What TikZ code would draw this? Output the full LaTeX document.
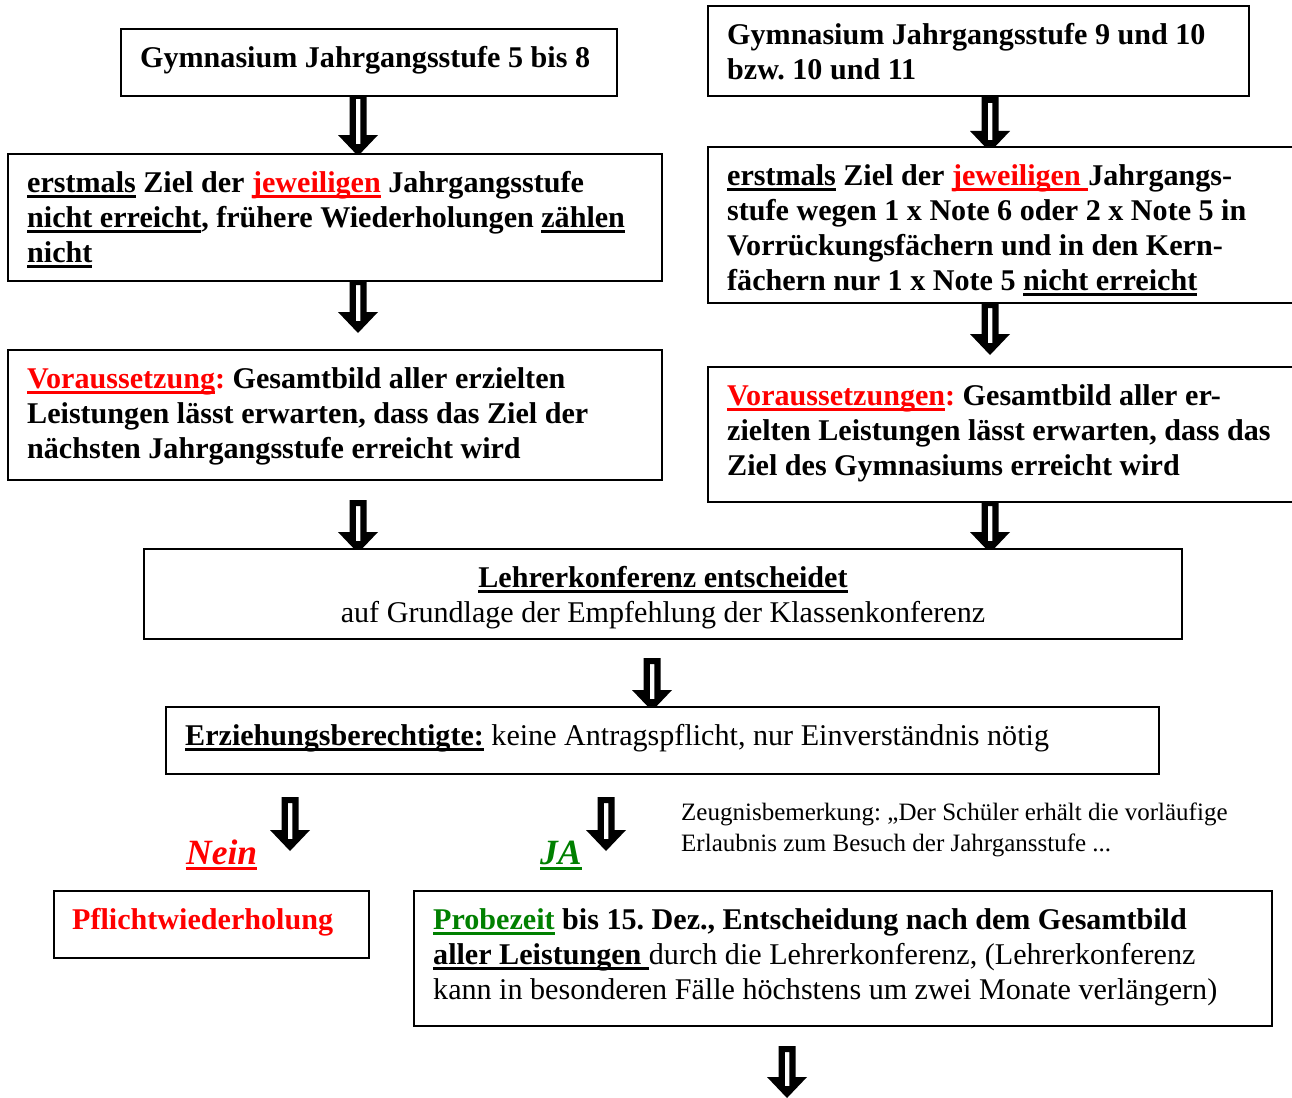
\documentclass[tikz,border=0pt]{standalone}
\usepackage{fontspec}
\setmainfont{Liberation Serif}
\usetikzlibrary{calc,backgrounds}
\definecolor{myred}{RGB}{255,0,0}
\definecolor{mygreen}{RGB}{0,128,0}
\newsavebox\ulbox
\newcommand\myul[1]{\sbox\ulbox{#1}\rlap{\rule[-6pt]{\wd\ulbox}{3pt}}\usebox\ulbox}
\frenchspacing
\tikzset{
  box/.style={draw=black, line width=2pt, fill=white, inner sep=0pt},
  txt/.style={inner sep=0pt, anchor=north west, align=left, font=\fontsize{30.1}{35}\selectfont},
  btxt/.style={txt, font=\fontsize{30.1}{35}\selectfont\bfseries},
  small/.style={inner sep=0pt, anchor=north west, align=left, font=\fontsize{25}{31}\selectfont},
  answer/.style={inner sep=0pt, anchor=base west, font=\fontsize{35.5}{40}\selectfont\bfseries\itshape},
  blockarrow/.style={fill=black, even odd rule, to path={let \p1=(\tikztostart), \p2=(\tikztotarget) in
    (\x1-8.5pt,\y1) -- (\x1+8.5pt,\y1) -- (\x1+8.5pt,\y2+21pt) -- (\x1+20pt,\y2+21pt) -- (\x1,\y2)
    -- (\x1-20pt,\y2+21pt) -- (\x1-8.5pt,\y2+21pt) -- cycle
    (\x1-2.25pt,\y1-6pt) rectangle (\x1+2.25pt,\y2+12pt)}}
}
\begin{document}
\begin{tikzpicture}[x=1pt,y=-1pt]
\useasboundingbox (0,0) rectangle (1292,1097);
\clip (0,0) rectangle (1292,1097);
% boxes
\node[box, minimum width=496, minimum height=67] (A) at (369,62.5) {};
\node[box, minimum width=541, minimum height=90] (B) at (978.5,51) {};
\node[box, minimum width=654, minimum height=127] (C) at (335,217.5) {};
\node[box, minimum width=602, minimum height=156] (D) at (1009,225) {};
\node[box, minimum width=654, minimum height=130] (E) at (335,415) {};
\node[box, minimum width=602, minimum height=135] (F) at (1009,434.5) {};
\node[box, minimum width=1038, minimum height=90] (G) at (663,594) {};
\node[box, minimum width=993, minimum height=67] (H) at (662.5,740.5) {};
\node[box, minimum width=315, minimum height=67] (I) at (211.5,924.5) {};
\node[box, minimum width=858, minimum height=135] (J) at (843,958.5) {};
% texts
\node[btxt] (At) at (140,42.5) {\strut Gymnasium Jahrgangsstufe 5 bis 8};
\node[btxt] (Bt) at (727,19.5) {\strut Gymnasium Jahrgangsstufe 9 und 10\\bzw. 10 und 11};
\node[btxt] (Ct) at (27,167.5) {\strut\myul{erstmals} Ziel der {\color{myred}\myul{jeweiligen}} Jahrgangsstufe\\\myul{nicht erreicht}, frühere Wiederholungen \myul{zählen}\\\myul{nicht}};
\node[btxt] (Dt) at (727,160.5) {\strut\myul{erstmals} Ziel der {\color{myred}\myul{jeweiligen\ }}Jahrgangs-\\stufe wegen 1 x Note 6 oder 2 x Note 5 in\\Vorrückungsfächern und in den Kern-\\fächern nur 1 x Note 5 \myul{nicht erreicht}};
\node[btxt] (Et) at (27,363.5) {\strut{\color{myred}\myul{Voraussetzung}:} Gesamtbild aller erzielten\\Leistungen lässt erwarten, dass das Ziel der\\nächsten Jahrgangsstufe erreicht wird};
\node[btxt] (Ft) at (727,380.5) {\strut{\color{myred}\myul{Voraussetzungen}:} Gesamtbild aller er-\\zielten Leistungen lässt erwarten, dass das\\Ziel des Gymnasiums erreicht wird};
\node[txt, anchor=north, align=center] (Gt) at (663,562.5) {\strut\textbf{\myul{Lehrerkonferenz entscheidet}}\\auf Grundlage der Empfehlung der Klassenkonferenz};
\node[txt] (Ht) at (185,720.5) {\strut\textbf{\myul{Erziehungsberechtigte:}} keine Antragspflicht, nur Einverständnis nötig};
\node[btxt, text=myred] (It) at (72,904.5) {\strut Pflichtwiederholung};
\node[txt] (Jt) at (433,904.5) {\strut{\color{mygreen}\bfseries\myul{Probezeit}} \textbf{bis 15. Dez., Entscheidung nach dem Gesamtbild}\\\textbf{\myul{aller Leistungen\ }}durch die Lehrerkonferenz, (Lehrerkonferenz\\kann in besonderen Fälle höchstens um zwei Monate verlängern)};
\node[small] (Z) at (681,798.3) {\strut Zeugnisbemerkung: „Der Schüler erhält die vorläufige\\Erlaubnis zum Besuch der Jahrgansstufe ...};
\node[answer, text=myred] (nein) at (186,864) {\myul{Nein}};
\node[answer, text=mygreen] (ja) at (540,864) {\myul{JA}};
% arrow end points
\coordinate (a1s) at (358,93);   \coordinate (a1e) at (358,156);
\coordinate (a2s) at (990,97);   \coordinate (a2e) at (990,152);
\coordinate (a3s) at (358,279);  \coordinate (a3e) at (358,333);
\coordinate (a4s) at (990,302);  \coordinate (a4e) at (990,355);
\coordinate (a5s) at (358,500);  \coordinate (a5e) at (358,553);
\coordinate (a6s) at (990,500);  \coordinate (a6e) at (990,553);
\coordinate (a7s) at (652,658);  \coordinate (a7e) at (652,711);
\coordinate (a8s) at (290,797);  \coordinate (a8e) at (290,851);
\coordinate (a9s) at (606,797);  \coordinate (a9e) at (606,851);
\coordinate (a10s) at (787,1046); \coordinate (a10e) at (787,1098);
\begin{scope}[on background layer]
\path[blockarrow] (a1s) to (a1e);
\path[blockarrow] (a2s) to (a2e);
\path[blockarrow] (a3s) to (a3e);
\path[blockarrow] (a4s) to (a4e);
\path[blockarrow] (a5s) to (a5e);
\path[blockarrow] (a6s) to (a6e);
\path[blockarrow] (a7s) to (a7e);
\path[blockarrow] (a8s) to (a8e);
\path[blockarrow] (a9s) to (a9e);
\path[blockarrow] (a10s) to (a10e);
\end{scope}
\end{tikzpicture}
\end{document}
